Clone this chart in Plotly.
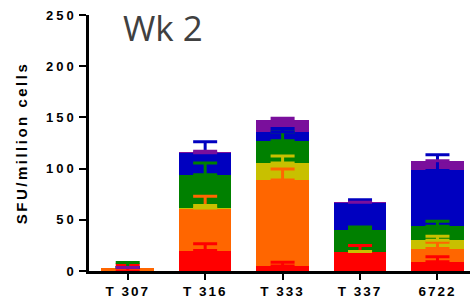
import numpy as np
import plotly.graph_objects as go

categories = ["T 307", "T 316", "T 333", "T 337", "6722"]
series_names = ["S1", "S2", "S3", "S4", "S5", "S6"]
colors = ["#ff0000", "#ff6600", "#c8c000", "#008000", "#0000c0", "#7a0f9c"]

red = [0.0, 20.0, 5.0, 19.0, 9.0]
orange = [3.4, 41.0, 83.9, 0.0, 12.9]
yellow = [0.0, 0.5, 16.6, 0.0, 8.1]
green = [0.0, 32.5, 21.7, 21.4, 13.7]
blue = [0.0, 21.3, 8.7, 26.1, 54.5]
purple = [0.0, 0.3, 11.5, 0.7, 9.5]

red_err = [6.0, 6.5, 3.5, 5.9, 4.8]
orange_err = [0.0, 12.0, 10.7, 0.0, 6.1]
yellow_err = [0.0, 2.5, 6.8, 0.0, 4.0]
green_err = [4.8, 11.5, 8.8, 2.6, 4.8]
blue_err = [0.0, 11.0, 3.2, 3.2, 15.3]
purple_err = [0.0, 1.3, 1.7, 0.0, 0.0]

values = [red, orange, yellow, green, blue, purple]
errors = [red_err, orange_err, yellow_err, green_err, blue_err, purple_err]

y_ticks = [0, 50, 100, 150, 200, 250]


def spaced(text, px):
    return f'<span style="letter-spacing:{px}px">{text}</span>'


fig = go.Figure()
for name, vals, col in zip(series_names, values, colors):
    fig.add_trace(go.Bar(x=categories, y=vals, name=name, width=0.68,
                         marker=dict(color=col, line=dict(width=0)),
                         showlegend=False))

cum = np.cumsum(np.array(values), axis=0)
for i, (errs, col) in enumerate(zip(errors, colors)):
    arr = [e if e > 0 else np.nan for e in errs]
    fig.add_trace(go.Scatter(
        x=categories, y=cum[i], mode="markers",
        marker=dict(size=1, color="rgba(0,0,0,0)"),
        error_y=dict(type="data", symmetric=False, array=arr,
                     arrayminus=[0] * len(arr), color=col,
                     thickness=3, width=12),
        showlegend=False, hoverinfo="skip"))

fam = "Liberation Sans, Arial, sans-serif"
xtick_font = dict(family=fam, size=13.5, color="black", weight="bold")
ytick_font = dict(family=fam, size=13, color="black", weight="bold")

fig.update_layout(
    barmode="stack",
    width=470, height=301,
    margin=dict(l=89, r=0, t=15, b=30, autoexpand=False),
    paper_bgcolor="white", plot_bgcolor="white",
    xaxis=dict(range=[-0.5, 4.42], showline=True, linecolor="black",
               linewidth=2.5, ticks="outside", ticklen=6, tickwidth=2,
               tickcolor="black", tickfont=xtick_font, showgrid=False,
               tickmode="array", tickvals=categories,
               ticktext=[spaced(c, 2) for c in categories],
               zeroline=False, fixedrange=True, automargin=False),
    yaxis=dict(range=[0, 250], tickmode="array", tickvals=y_ticks,
               ticktext=[spaced(str(v), 3) for v in y_ticks],
               showline=True, automargin=False, ticklabeloverflow="allow",
               linecolor="black", linewidth=2.5, ticks="outside",
               ticklen=7, tickwidth=2, tickcolor="black",
               tickfont=ytick_font, showgrid=False, zeroline=False,
               title=dict(text=spaced("SFU/million cells", 2.5),
                          font=dict(family=fam, size=15,
                                    color="black", weight="bold"))),
    annotations=[dict(text="Wk 2", xref="paper", yref="paper",
                      x=0.084, y=0.95, xanchor="left", yanchor="middle",
                      showarrow=False,
                      font=dict(family="Open Sans", size=35, color="#404040"))],
)

# remove the page's default 8px body margin so the figure fills the window
fig.write_html("out.html", config={"displayModeBar": False},
               post_script="document.body.style.margin='0';")
